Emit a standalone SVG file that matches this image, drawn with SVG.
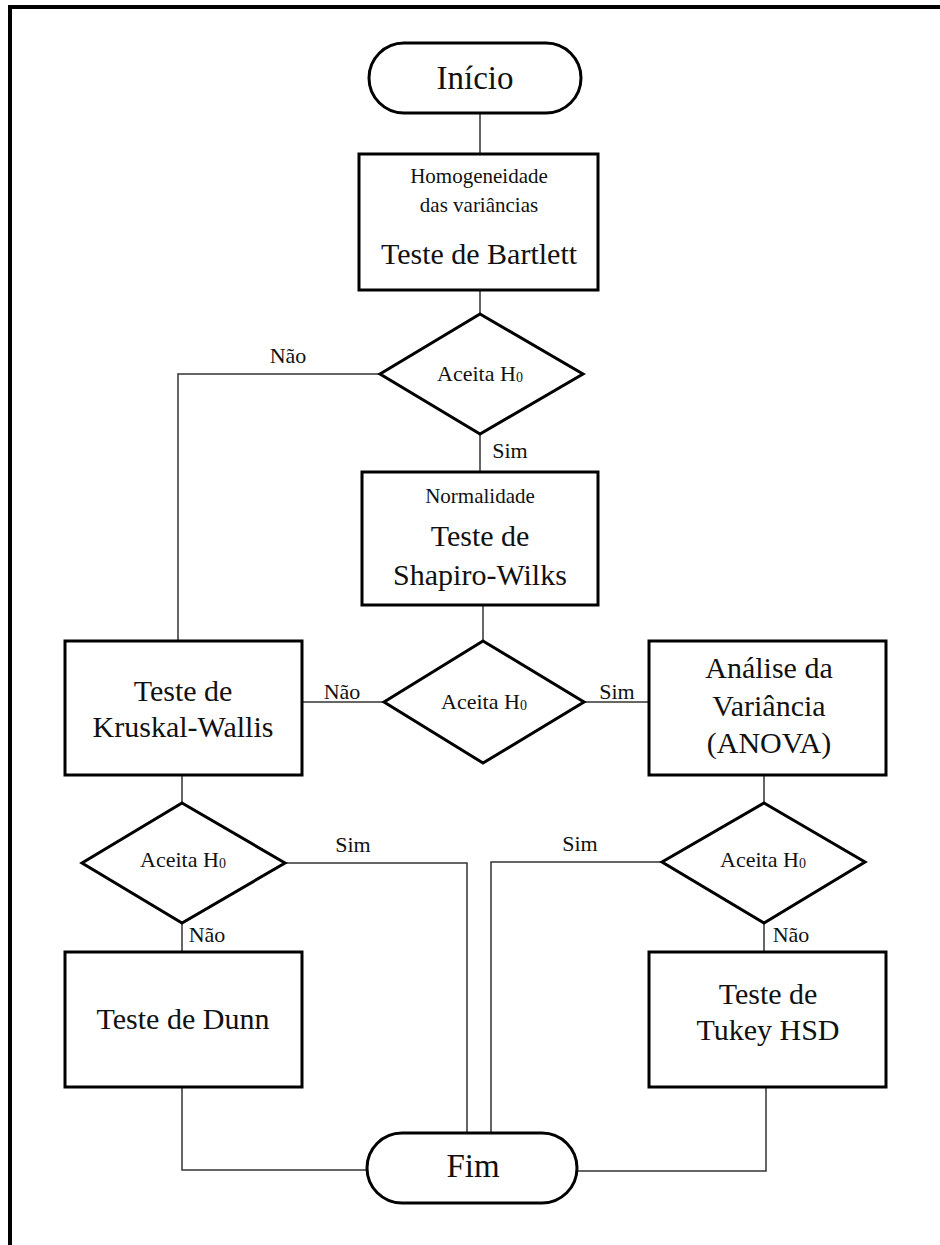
<svg xmlns="http://www.w3.org/2000/svg" width="940" height="1245" viewBox="0 0 940 1245" font-family="'Liberation Serif', 'Times New Roman', 'DejaVu Serif', serif">
<style>
.shape{fill:#fff;stroke:#000;stroke-width:3}
.conn{fill:none;stroke:#333;stroke-width:1.5}
text{font-family:'Liberation Serif','Times New Roman','DejaVu Serif',serif;fill:#111;text-anchor:middle}
.big{font-size:30px}
.term{font-size:33px}
.small{font-size:21px}
.lbl{font-size:22px}
.sub{font-size:14px}
</style>
<rect width="940" height="1245" fill="#fff"/>
<g id="frame">
<path d="M10,1245 V7 H940" fill="none" stroke="#000" stroke-width="4"/>
</g>
<g id="connectors">
<path class="conn" d="M480,113 V154"/>
<path class="conn" d="M480,290 V314"/>
<path class="conn" d="M480,434 V472"/>
<path class="conn" d="M380,374 H178 V641"/>
<path class="conn" d="M483,605 V641"/>
<path class="conn" d="M384,702 H302"/>
<path class="conn" d="M584,702 H649"/>
<path class="conn" d="M182,775 V803"/>
<path class="conn" d="M182,923 V952"/>
<path class="conn" d="M285,863 H467 V1133"/>
<path class="conn" d="M764,775 V803"/>
<path class="conn" d="M764,923 V952"/>
<path class="conn" d="M662,862 H491 V1133"/>
<path class="conn" d="M182,1087 V1170 H367"/>
<path class="conn" d="M766,1087 V1171 H577"/>
<text class="lbl" x="288" y="363">Não</text>
<text class="lbl" x="510" y="458">Sim</text>
<text class="lbl" x="342" y="699">Não</text>
<text class="lbl" x="617" y="699">Sim</text>
<text class="lbl" x="353" y="852">Sim</text>
<text class="lbl" x="207" y="942">Não</text>
<text class="lbl" x="580" y="851">Sim</text>
<text class="lbl" x="791" y="942">Não</text>
</g>
<g id="inicio">
<rect class="shape" x="369" y="43" width="212" height="70" rx="35" ry="35"/>
<text class="term" x="475" y="89">Início</text>
</g>
<g id="bartlett">
<rect class="shape" x="359" y="154" width="239" height="136"/>
<text class="small" x="479" y="183">Homogeneidade</text>
<text class="small" x="479" y="212">das variâncias</text>
<text class="big" x="479" y="264">Teste de Bartlett</text>
</g>
<g id="decisao1">
<polygon class="shape" points="480,314 583,374 480,434 380,374"/>
<text class="lbl" x="480" y="381">Aceita H<tspan class="sub" dy="1">0</tspan></text>
</g>
<g id="shapiro">
<rect class="shape" x="362" y="472" width="236" height="133"/>
<text class="small" x="480" y="503">Normalidade</text>
<text class="big" x="480" y="546">Teste de</text>
<text class="big" x="480" y="585">Shapiro-Wilks</text>
</g>
<g id="decisao2">
<polygon class="shape" points="483,641 584,702 483,763 384,702"/>
<text class="lbl" x="484" y="709">Aceita H<tspan class="sub" dy="1">0</tspan></text>
</g>
<g id="kruskal">
<rect class="shape" x="65" y="641" width="237" height="134"/>
<text class="big" x="183" y="701">Teste de</text>
<text class="big" x="183" y="737">Kruskal-Wallis</text>
</g>
<g id="anova">
<rect class="shape" x="649" y="641" width="237" height="134"/>
<text class="big" x="769" y="678">Análise da</text>
<text class="big" x="769" y="716">Variância</text>
<text class="big" x="769" y="753">(ANOVA)</text>
</g>
<g id="decisao3">
<polygon class="shape" points="182,803 285,863 182,923 82,863"/>
<text class="lbl" x="183" y="867">Aceita H<tspan class="sub" dy="1">0</tspan></text>
</g>
<g id="decisao4">
<polygon class="shape" points="764,803 865,862 764,923 662,862"/>
<text class="lbl" x="763" y="867">Aceita H<tspan class="sub" dy="1">0</tspan></text>
</g>
<g id="dunn">
<rect class="shape" x="65" y="952" width="237" height="135"/>
<text class="big" x="183" y="1029">Teste de Dunn</text>
</g>
<g id="tukey">
<rect class="shape" x="649" y="952" width="237" height="135"/>
<text class="big" x="768" y="1004">Teste de</text>
<text class="big" x="768" y="1040">Tukey HSD</text>
</g>
<g id="fim">
<rect class="shape" x="367" y="1133" width="210" height="70" rx="35" ry="35"/>
<text class="term" x="473" y="1177">Fim</text>
</g>
</svg>
